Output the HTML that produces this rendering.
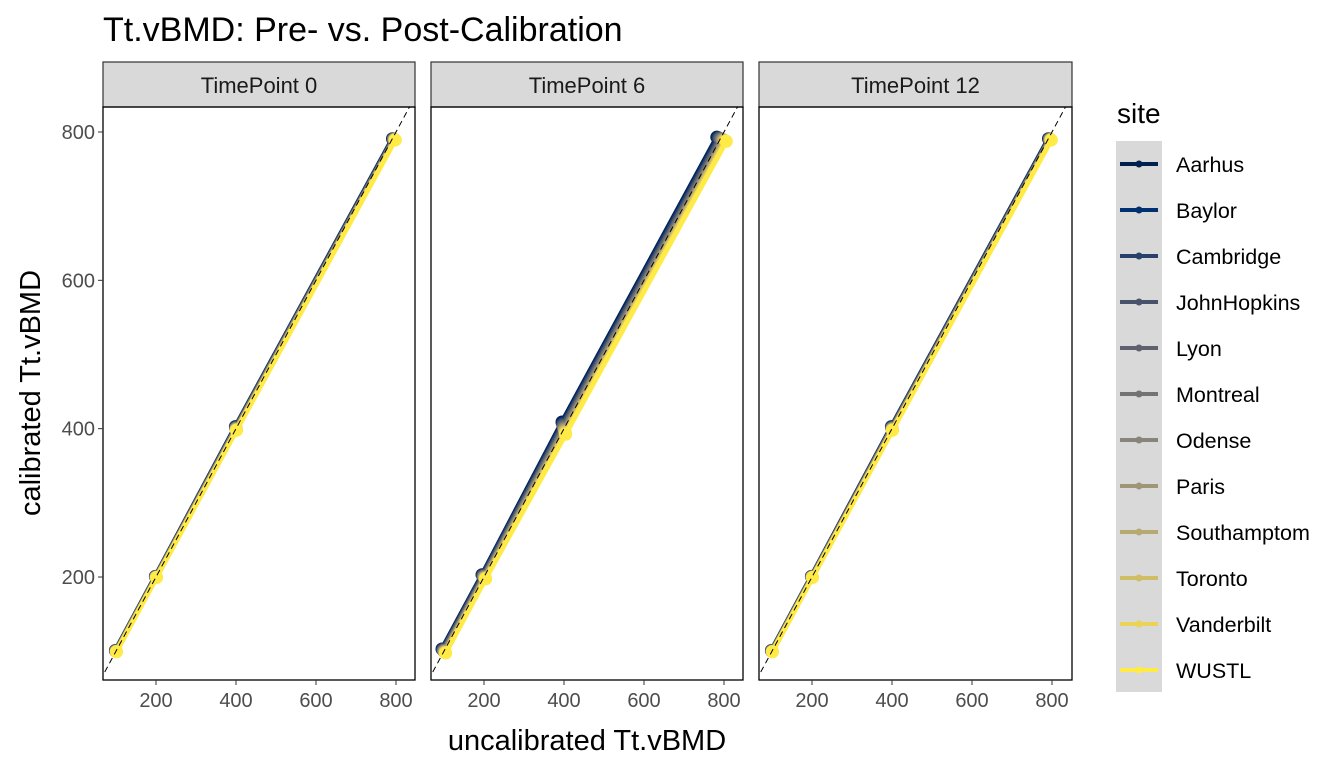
<!DOCTYPE html>
<html><head><meta charset="utf-8"><style>
body{margin:0;background:#fff;}
svg{display:block;font-family:"Liberation Sans",Arial,sans-serif;}
</style></head><body>
<svg id="s" width="1344" height="768" xmlns="http://www.w3.org/2000/svg">
<rect width="1344" height="768" fill="#fff"/>
<text x="103" y="41" font-size="34" fill="#000">Tt.vBMD: Pre- vs. Post-Calibration</text>
<text transform="translate(40,393) rotate(-90)" text-anchor="middle" font-size="29" fill="#000">calibrated Tt.vBMD</text>
<text x="587" y="750" text-anchor="middle" font-size="29" fill="#000">uncalibrated Tt.vBMD</text>
<text x="1117" y="123" font-size="28" fill="#000">site</text>
<rect x="1116" y="141" width="46" height="551" fill="#d9d9d9"/>
<g id="g"></g>
</svg>
<script>
var g=document.getElementById('g'),h='';
var cols=['#00204D','#00306F','#2A406C','#48526B','#5E626E','#727374','#878479','#9E9677','#B6A971','#D0BE67','#EAD357','#FFEA46'];
var names=['Aarhus','Baylor','Cambridge','JohnHopkins','Lyon','Montreal','Odense','Paris','Southamptom','Toronto','Vanderbilt','WUSTL'];
var panels=[[103,415,156,'TimePoint 0'],[431,743,484,'TimePoint 6'],[759,1072,812,'TimePoint 12']];
function Y(v){return 577-(v-200)*0.7417;}
panels.forEach(function(p,pi){
 var x0=p[0],x1=p[1],b=p[2];function X(v){return b+(v-200)*0.4;}
 h+='<rect x="'+x0+'" y="62" width="'+(x1-x0)+'" height="45" fill="#d9d9d9" stroke="#333" stroke-width="1.2"/>';
 h+='<text x="'+((x0+x1)/2)+'" y="93" text-anchor="middle" font-size="22" fill="#1a1a1a">'+p[3]+'</text>';
 h+='<clipPath id="c'+pi+'"><rect x="'+x0+'" y="107" width="'+(x1-x0)+'" height="573"/></clipPath><g clip-path="url(#c'+pi+')">';
 var off=pi==1?10:3;
 cols.forEach(function(c,i){
  var d=(i-6)/6*off;
  var pts=[[100,100],[200,200],[400,400-d*0.6],[795+d*0.8,790]];
  h+='<polyline fill="none" stroke="'+c+'" stroke-width="5" stroke-linecap="round" points="'+pts.map(function(q){return X(q[0]+d*0.5)+','+Y(q[1]-d*0.3)}).join(' ')+'"/>';
  pts.forEach(function(q){h+='<circle cx="'+X(q[0]+d*0.5)+'" cy="'+Y(q[1]-d*0.3)+'" r="6.5" fill="'+c+'"/>';});
 });
 h+='<line x1="'+X(60)+'" y1="'+Y(60)+'" x2="'+X(850)+'" y2="'+Y(850)+'" stroke="#000" stroke-width="1" stroke-dasharray="6,4"/></g>';
 h+='<rect x="'+x0+'" y="107" width="'+(x1-x0)+'" height="573" fill="none" stroke="#000" stroke-width="1.3"/>';
 [200,400,600,800].forEach(function(v){
  h+='<line x1="'+X(v)+'" y1="680" x2="'+X(v)+'" y2="685" stroke="#333"/>';
  h+='<text x="'+X(v)+'" y="707" text-anchor="middle" font-size="20" fill="#4d4d4d">'+v+'</text>';
  if(pi==0){h+='<line x1="98" y1="'+Y(v)+'" x2="103" y2="'+Y(v)+'" stroke="#333"/>';
  h+='<text x="95" y="'+(Y(v)+7)+'" text-anchor="end" font-size="20" fill="#4d4d4d">'+v+'</text>';}
 });
});
names.forEach(function(n,i){var y=164+i*46;
 h+='<line x1="1120" y1="'+y+'" x2="1158" y2="'+y+'" stroke="'+cols[i]+'" stroke-width="4"/><circle cx="1139" cy="'+y+'" r="3.5" fill="'+cols[i]+'"/>';
 h+='<text x="1176" y="'+(y+8)+'" font-size="21.5" fill="#000">'+n+'</text>';});
g.innerHTML=h;
</script>
</body></html>
